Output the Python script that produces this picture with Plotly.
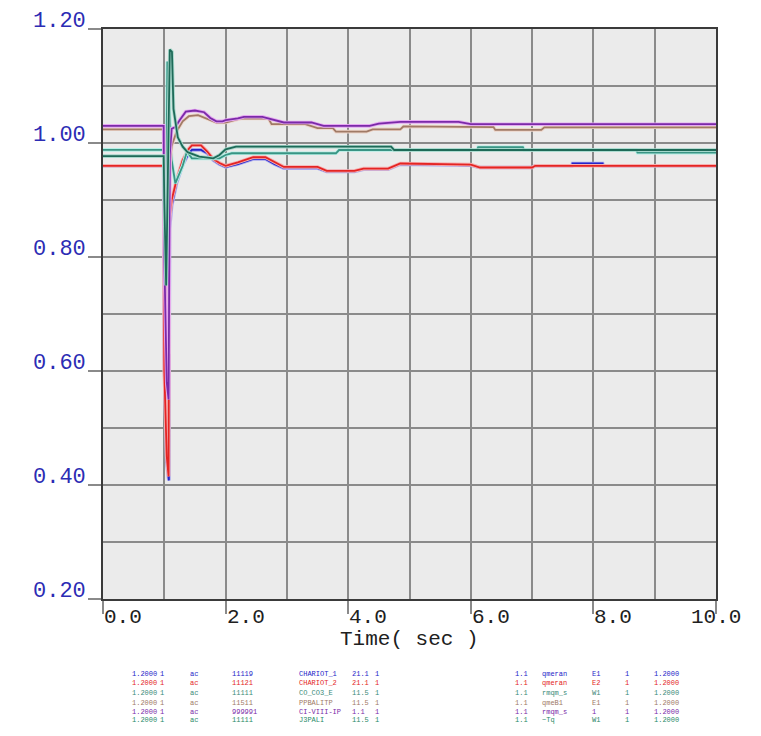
import plotly.graph_objects as go

# ---------------- data ----------------
t_blue = [0, 0.99, 1.0, 1.04, 1.075, 1.085, 1.12, 1.2, 1.3, 1.4, 1.45, 1.6, 1.7, 1.8, 1.9, 2.0, 2.2, 2.45, 2.65, 2.8,
          2.95, 3.5, 3.65, 4.1, 4.25, 4.65, 4.85, 6.0, 6.15, 7.0, 7.05, 7.65, 7.66, 8.15, 8.16, 10.0]
v_blue = [0.960, 0.960, 0.62, 0.44, 0.408, 0.85, 0.89, 0.93, 0.962, 0.982, 0.988, 0.988, 0.982, 0.970, 0.963, 0.958,
          0.963, 0.972, 0.972, 0.963, 0.956, 0.956, 0.950, 0.950, 0.954, 0.954, 0.963, 0.961, 0.957, 0.957, 0.960,
          0.960, 0.964, 0.964, 0.960, 0.960]

t_red = [0, 0.99, 1.0, 1.04, 1.07, 1.08, 1.12, 1.2, 1.3, 1.4, 1.45, 1.6, 1.7, 1.8, 1.9, 2.0, 2.2, 2.45, 2.65, 2.8,
         2.95, 3.5, 3.65, 4.1, 4.25, 4.65, 4.85, 6.0, 6.15, 7.0, 7.05, 10.0]
v_red = [0.960, 0.960, 0.60, 0.45, 0.415, 0.86, 0.90, 0.935, 0.970, 0.990, 0.996, 0.996, 0.985, 0.972, 0.965, 0.960,
         0.966, 0.975, 0.975, 0.966, 0.958, 0.958, 0.951, 0.951, 0.955, 0.955, 0.964, 0.962, 0.957, 0.957, 0.960, 0.960]

t_teal = [0, 0.99, 1.0, 1.02, 1.05, 1.07, 1.12, 1.18, 1.3, 1.37, 1.45, 1.9, 2.0, 2.1, 3.8, 3.85, 6.1, 6.12, 6.85,
          6.87, 8.7, 8.72, 10.0]
v_teal = [0.988, 0.988, 0.90, 0.76, 1.143, 1.10, 0.97, 0.929, 0.960, 0.985, 0.973, 0.973, 0.979, 0.982, 0.982, 0.9877,
          0.9877, 0.9925, 0.9925, 0.9877, 0.9877, 0.983, 0.983]

t_brown = [0, 0.99, 1.0, 1.04, 1.07, 1.09, 1.12, 1.2, 1.3, 1.4, 1.55, 1.7, 1.85, 2.0, 2.25, 2.7, 2.75, 3.3, 3.5, 3.75,
           3.8, 4.3, 4.4, 4.85, 4.9, 6.37, 6.4, 7.15, 7.2, 10.0]
v_brown = [1.024, 1.024, 0.85, 0.66, 0.63, 0.96, 0.995, 1.020, 1.038, 1.047, 1.049, 1.042, 1.036, 1.036, 1.043, 1.043,
           1.033, 1.033, 1.026, 1.026, 1.020, 1.020, 1.024, 1.024, 1.029, 1.028, 1.023, 1.023, 1.0275, 1.0275]

t_purple = [0, 0.99, 1.0, 1.04, 1.07, 1.09, 1.12, 1.18, 1.25, 1.35, 1.5, 1.65, 1.75, 1.85, 1.95, 2.0, 2.2, 2.3, 2.6,
            2.8, 2.95, 3.4, 3.6, 4.35, 4.5, 4.85, 5.8, 6.0, 10.0]
v_purple = [1.030, 1.030, 0.80, 0.58, 0.55, 0.98, 1.025, 1.028, 1.040, 1.055, 1.057, 1.054, 1.044, 1.038, 1.038, 1.040,
            1.043, 1.046, 1.046, 1.040, 1.036, 1.036, 1.030, 1.030, 1.034, 1.037, 1.037, 1.033, 1.033]

t_green = [0, 0.99, 1.0, 1.03, 1.09, 1.125, 1.15, 1.19, 1.22, 1.3, 1.38, 1.57, 1.8, 1.9, 2.0, 2.17, 4.7, 4.75, 10.0]
v_green = [0.977, 0.977, 0.90, 0.75, 1.164, 1.160, 1.060, 1.034, 1.010, 0.9935, 0.984, 0.976, 0.973, 0.979, 0.989,
           0.9935, 0.9935, 0.9877, 0.9877]

x_tick_vals = [0, 2, 4, 6, 8, 10]
x_tick_text = ["0.0", "2.0", "4.0", "6.0", "8.0", "10.0"]
y_tick_vals = [0.2, 0.4, 0.6, 0.8, 1.0, 1.2]
y_tick_text = ["0.20", "0.40", "0.60", "0.80", "1.00", "1.20"]
x_title = "Time( sec )"

legend_left = [
    ["1.2000", "1", "ac", "11119", "CHARIOT_1", "21.1", "1"],
    ["1.2000", "1", "ac", "11121", "CHARIOT_2", "21.1", "1"],
    ["1.2000", "1", "ac", "11111", "CO_CO3_E", "11.5", "1"],
    ["1.2000", "1", "ac", "11511", "PPBALITP", "11.5", "1"],
    ["1.2000", "1", "ac", "999991", "CI-VIII-IP", "1.1", "1"],
    ["1.2000", "1", "ac", "11111", "J3PALI", "11.5", "1"],
]
legend_right = [
    ["1.1", "qmeran", "E1", "1", "1.2000"],
    ["1.1", "qmeran", "E2", "1", "1.2000"],
    ["1.1", "rmqm_s", "W1", "1", "1.2000"],
    ["1.1", "qmeB1", "E1", "1", "1.2000"],
    ["1.1", "rmqm_s", "1", "1", "1.2000"],
    ["1.1", "~Tq", "W1", "1", "1.2000"],
]

# ---------------- styles ----------------
series = [
    (t_blue, v_blue, "#2424c8", "#a8a8f0"),
    (t_red, v_red, "#e42424", "#f6b0b0"),
    (t_teal, v_teal, "#3a9484", "#b4f0e6"),
    (t_brown, v_brown, "#a07a66", "#eed6ca"),
    (t_purple, v_purple, "#7a2aa8", "#e6a8f2"),
    (t_green, v_green, "#1e6a58", "#a8d8cc"),
]
legend_colors = ["#2424c8", "#e42424", "#3a8a78", "#a07a66", "#7a2aa8", "#2a8a68"]

OFF = 8                      # page body margin added by the browser
W, H = 761 - OFF, 736 - OFF
PL, PT, PR, PB = 103, 29, 716, 599   # desired plot-area edges in window pixels
L, T = PL - OFF, PT - OFF
R = W - (PR - OFF)
B = H - (PB - OFF)

fig = go.Figure()
for tx, vy, col, halo in series:
    fig.add_trace(go.Scatter(x=tx, y=vy, mode="lines", line=dict(color=halo, width=3.6),
                             hoverinfo="skip", showlegend=False))
    fig.add_trace(go.Scatter(x=tx, y=vy, mode="lines", line=dict(color=col, width=1.8),
                             showlegend=False))

grid_col = "#8a8a8a"
fig.update_xaxes(range=[0, 10], dtick=2, tick0=0, showgrid=True, gridcolor=grid_col, gridwidth=2,
                 minor=dict(dtick=1, showgrid=True, gridcolor=grid_col, gridwidth=2, ticks=""),
                 ticks="outside", ticklen=13, tickwidth=2, tickcolor=grid_col,
                 showticklabels=False, zeroline=False,
                 showline=True, mirror=True, linecolor="#3a3a3a", linewidth=2)
fig.update_yaxes(range=[0.2, 1.2], dtick=0.2, tick0=0.2, showgrid=True, gridcolor=grid_col, gridwidth=2,
                 minor=dict(dtick=0.1, showgrid=True, gridcolor=grid_col, gridwidth=2, ticks=""),
                 ticks="outside", ticklen=13, tickwidth=2, tickcolor=grid_col,
                 showticklabels=False, zeroline=False,
                 showline=True, mirror=True, linecolor="#3a3a3a", linewidth=2)

ann = []
mono = "Liberation Mono, DejaVu Sans Mono, monospace"
for v, s in zip(y_tick_vals, y_tick_text):
    ann.append(dict(x=0, xref="paper", y=v, yref="y", text=s, showarrow=False, xanchor="right",
                    yanchor="bottom", xshift=-15, yshift=-7,
                    font=dict(family=mono, size=22, color="#2c2cb4")))
for i, (v, s) in enumerate(zip(x_tick_vals, x_tick_text)):
    last = i == len(x_tick_vals) - 1
    ann.append(dict(x=v, xref="x", y=0, yref="paper", text=s, showarrow=False,
                    xanchor="center" if last else "left", yanchor="top", xshift=0 if last else -1, yshift=-5,
                    font=dict(family=mono, size=21, color="#202020")))
ann.append(dict(x=0.5, xref="paper", y=0, yref="paper", text=x_title, showarrow=False, xanchor="center",
                yanchor="middle", yshift=-40, font=dict(family=mono, size=21, color="#202020")))

left_pos = [130, 158, 188, 230, 297, 350, 373]
right_pos = [513, 540, 590, 623, 652]
row_y = [674, 683, 693, 703, 712, 720]
for r in range(6):
    for toks, pos in ((legend_left[r], left_pos), (legend_right[r], right_pos)):
        for tok, px in zip(toks, pos):
            ann.append(dict(x=0, xref="paper", y=0, yref="paper", text=tok, showarrow=False,
                            xanchor="left", yanchor="middle", xshift=px - PL, yshift=-(row_y[r] - PB),
                            font=dict(family=mono, size=7, color=legend_colors[r])))

fig.update_layout(width=W, height=H, margin=dict(l=L, r=R, t=T, b=B),
                  paper_bgcolor="white", plot_bgcolor="#ebebeb", annotations=ann, showlegend=False)

fig.write_html("out.html")
